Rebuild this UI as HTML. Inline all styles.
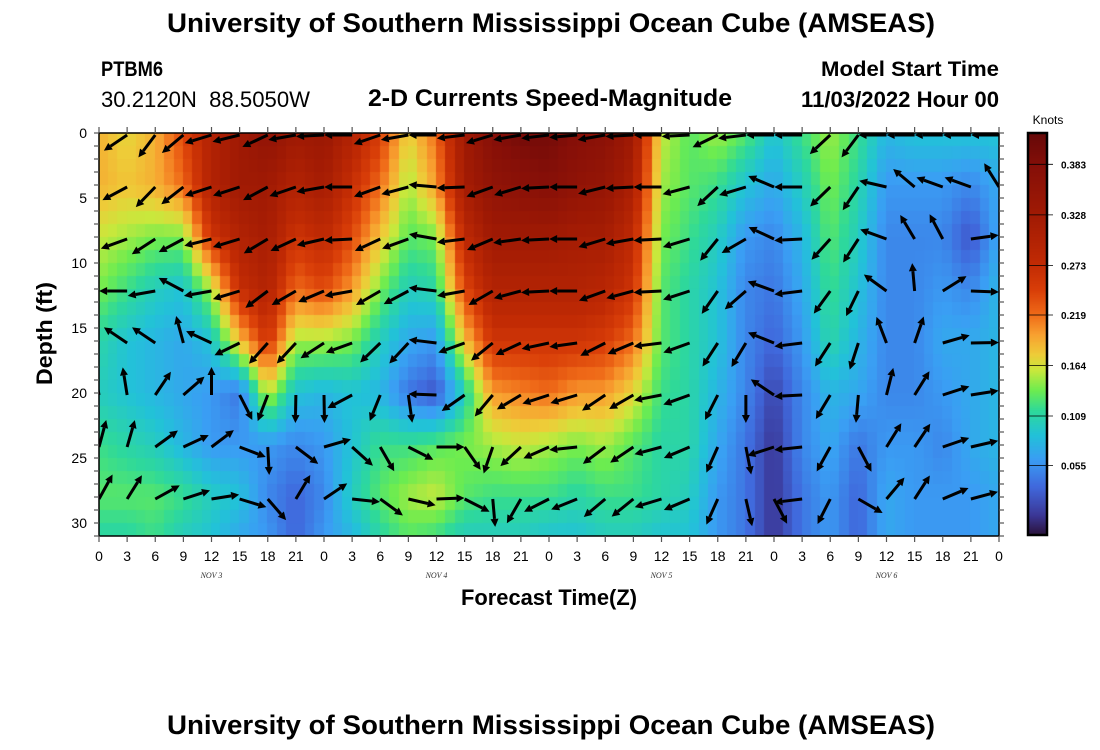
<!DOCTYPE html>
<html><head><meta charset="utf-8">
<style>
html,body{margin:0;padding:0;background:#fff;}
body{width:1100px;height:750px;position:relative;overflow:hidden;font-family:"Liberation Sans",sans-serif;}
svg{position:absolute;left:0;top:0;}
canvas{position:absolute;}
</style></head>
<body>
<canvas id="heat" width="900" height="403" style="left:99px;top:133px;width:900px;height:403px"></canvas>
<canvas id="cbar" width="19" height="402" style="left:1028px;top:133px;width:19px;height:402px"></canvas>
<svg id="svg" width="1100" height="750" xmlns="http://www.w3.org/2000/svg" font-family="Liberation Sans, sans-serif">
<text x="167" y="32" font-size="27" font-weight="bold" textLength="768" lengthAdjust="spacingAndGlyphs">University of Southern Mississippi Ocean Cube (AMSEAS)</text>
<text x="101" y="76" font-size="21" font-weight="bold" textLength="62" lengthAdjust="spacingAndGlyphs">PTBM6</text>
<text x="101" y="107" font-size="22" textLength="209" lengthAdjust="spacingAndGlyphs">30.2120N&#160;&#160;88.5050W</text>
<text x="368" y="106" font-size="24" font-weight="bold" textLength="364" lengthAdjust="spacingAndGlyphs">2-D Currents Speed-Magnitude</text>
<text x="821" y="76" font-size="21" font-weight="bold" textLength="178" lengthAdjust="spacingAndGlyphs">Model Start Time</text>
<text x="801" y="107" font-size="22" font-weight="bold" textLength="198" lengthAdjust="spacingAndGlyphs">11/03/2022 Hour 00</text>
<text transform="translate(52,385) rotate(-90)" font-size="22" font-weight="bold" textLength="103" lengthAdjust="spacingAndGlyphs">Depth (ft)</text>
<text x="461" y="605" font-size="22" font-weight="bold" textLength="176" lengthAdjust="spacingAndGlyphs">Forecast Time(Z)</text>
<text x="1048" y="124" text-anchor="middle" font-size="12">Knots</text>
<text x="167" y="734" font-size="27" font-weight="bold" textLength="768" lengthAdjust="spacingAndGlyphs">University of Southern Mississippi Ocean Cube (AMSEAS)</text>
<g id="arrows"></g>
<g id="axes"></g>
</svg>
<script>
// ---- data ----
const depths = [0,4,8,12,16,20,24,28,31];
const hours = [0,3,6,9,12,15,18,21,24,27,30,33,36,39,42,45,48,51,54,57,60,63,66,69,72,75,78,81,84,87,90,93,96];
// speed (knots), one array per time column, values at the depths above
const speedCols = [
[0.19,0.19,0.16,0.14,0.11,0.10,0.12,0.13,0.11],
[0.17,0.18,0.15,0.12,0.09,0.09,0.11,0.13,0.11],
[0.19,0.19,0.14,0.10,0.08,0.08,0.10,0.13,0.12],
[0.24,0.22,0.14,0.09,0.07,0.07,0.08,0.12,0.10],
[0.30,0.30,0.26,0.15,0.09,0.06,0.06,0.10,0.09],
[0.33,0.33,0.30,0.27,0.18,0.04,0.06,0.09,0.07],
[0.36,0.33,0.32,0.30,0.26,0.16,0.06,0.05,0.06],
[0.33,0.30,0.26,0.22,0.15,0.09,0.05,0.03,0.03],
[0.34,0.32,0.28,0.24,0.15,0.08,0.06,0.05,0.06],
[0.30,0.27,0.24,0.20,0.14,0.09,0.09,0.10,0.08],
[0.25,0.22,0.18,0.14,0.10,0.08,0.12,0.13,0.11],
[0.17,0.15,0.13,0.10,0.07,0.04,0.12,0.15,0.13],
[0.22,0.20,0.14,0.11,0.06,0.02,0.13,0.16,0.12],
[0.33,0.32,0.28,0.24,0.18,0.10,0.14,0.13,0.10],
[0.38,0.36,0.33,0.30,0.26,0.20,0.15,0.12,0.10],
[0.40,0.37,0.33,0.30,0.26,0.21,0.16,0.12,0.10],
[0.40,0.38,0.33,0.30,0.26,0.22,0.15,0.12,0.09],
[0.38,0.36,0.32,0.30,0.26,0.20,0.14,0.11,0.09],
[0.37,0.35,0.32,0.29,0.25,0.20,0.15,0.12,0.10],
[0.33,0.31,0.28,0.26,0.22,0.17,0.13,0.12,0.10],
[0.16,0.15,0.14,0.13,0.13,0.12,0.11,0.11,0.09],
[0.13,0.13,0.12,0.11,0.11,0.11,0.11,0.10,0.09],
[0.15,0.12,0.10,0.09,0.09,0.08,0.07,0.06,0.06],
[0.13,0.09,0.06,0.05,0.05,0.05,0.04,0.04,0.04],
[0.09,0.07,0.05,0.04,0.03,0.01,0.00,0.00,0.00],
[0.12,0.10,0.08,0.07,0.06,0.05,0.05,0.04,0.04],
[0.15,0.14,0.13,0.12,0.11,0.08,0.07,0.06,0.06],
[0.12,0.11,0.10,0.09,0.08,0.07,0.04,0.03,0.03],
[0.08,0.06,0.05,0.05,0.05,0.05,0.06,0.07,0.07],
[0.09,0.06,0.05,0.05,0.05,0.05,0.06,0.06,0.06],
[0.09,0.06,0.05,0.06,0.07,0.06,0.05,0.06,0.06],
[0.09,0.05,0.02,0.05,0.07,0.07,0.07,0.06,0.06],
[0.09,0.07,0.07,0.08,0.08,0.08,0.08,0.07,0.07]
];
// arrow directions (degrees, 0=east, 90=up) per arrow row depth
const arrowDepths = [0,4,8,12,16,20,24,28];
const dirRow0 = [200,214,233,220,197,194,205,190,183,180,199,190,180,187,197,190,187,185,190,183,180,183,206,187,180,180,223,233,180,180,180,180,180];
const dirRow1 = [200,208,226,218,198,198,208,199,190,180,200,195,175,182,200,197,183,180,194,183,180,195,223,197,157,180,224,236,167,140,160,160,122];
const dirRow2 = [195,200,213,208,194,197,211,205,193,183,205,200,170,187,203,188,183,180,197,190,183,197,231,210,155,183,228,237,160,121,118,8,0];
const dirRow3 = [180,180,190,152,190,197,217,210,203,190,210,208,173,190,210,195,183,180,200,195,183,198,235,221,160,187,234,244,144,95,32,358,0];
const dirRow4 = [146,146,146,105,155,206,228,227,213,200,224,227,173,200,219,205,192,188,207,203,187,200,237,239,158,187,237,252,111,71,16,1,0];
const dirRow5 = [100,99,56,41,90,297,249,269,271,208,248,278,178,215,230,211,198,197,214,210,191,200,243,270,146,183,239,265,76,58,18,9,0];
const dirRow6 = [75,74,36,25,37,339,273,323,16,318,300,333,0,305,251,223,204,186,217,214,195,203,246,281,198,186,241,298,58,56,19,13,0];
const dirRow7 = [61,58,29,18,9,343,311,59,34,354,324,347,2,333,275,240,207,202,220,219,197,203,246,283,298,187,243,330,50,57,23,15,0];
const dirRows = [dirRow0,dirRow1,dirRow2,dirRow3,dirRow4,dirRow5,dirRow6,dirRow7];
const xTickLabels = ["0","3","6","9","12","15","18","21","0","3","6","9","12","15","18","21","0","3","6","9","12","15","18","21","0","3","6","9","12","15","18","21","0"];
const dayLabels = ["NOV 3","NOV 4","NOV 5","NOV 6"];
const dayHours = [12,36,60,84];
const yTickValues = [0,5,10,15,20,25,30];
const cbTicks = [0.055,0.109,0.164,0.219,0.273,0.328,0.383];

// ---- scales ----
const X0=99, X1=999, Y0=133, Y1=536;
const xs = h => X0 + (h/96)*(X1-X0);
const ys = d => Y0 + d*13;
const VMIN=-0.0205, VMAX=0.4171;
const cbY = v => 535 - (v-VMIN)/(VMAX-VMIN)*402;
const stops=[[0,'#2a1238'],[0.05,'#3b3796'],[0.12,'#4068dc'],[0.19,'#3a9ef4'],[0.25,'#22c2d8'],[0.31,'#2ed99a'],[0.36,'#6cec50'],[0.41,'#c8e83c'],[0.45,'#eecc38'],[0.5,'#f8a030'],[0.55,'#ef6a18'],[0.61,'#d93e08'],[0.68,'#c02a04'],[0.8,'#a01a04'],[0.92,'#850f08'],[1,'#660808']];
function hex(c){return [parseInt(c.substr(1,2),16),parseInt(c.substr(3,2),16),parseInt(c.substr(5,2),16)];}
function cmap(v){
  let t=(v-VMIN)/(VMAX-VMIN); t=Math.max(0,Math.min(1,t));
  for(let i=1;i<stops.length;i++){ if(t<=stops[i][0]){ const a=hex(stops[i-1][1]),b=hex(stops[i][1]); const f=(t-stops[i-1][0])/(stops[i][0]-stops[i-1][0]); return 'rgb('+a.map((x,k)=>Math.round(x+(b[k]-x)*f)).join(',')+')'; } }
  return stops[stops.length-1][1];
}
function sample(h,d){
  let ci=Math.min(hours.length-2,Math.floor(h/3)); let fx=(h-hours[ci])/3;
  let ri=0; while(ri<depths.length-2 && d>depths[ri+1]) ri++;
  let fy=(d-depths[ri])/(depths[ri+1]-depths[ri]); fy=Math.max(0,Math.min(1,fy)); fx=Math.max(0,Math.min(1,fx));
  const a=speedCols[ci][ri],b=speedCols[ci+1][ri],c=speedCols[ci][ri+1],e=speedCols[ci+1][ri+1];
  return a*(1-fx)*(1-fy)+b*fx*(1-fy)+c*(1-fx)*fy+e*fx*fy;
}
// heatmap
const hc=document.getElementById('heat').getContext('2d');
for(let h=0;h<96;h++){ for(let d=0;d<31;d++){
  hc.fillStyle=cmap(sample(h+0.5,d+0.5));
  const x0=xs(h)-X0, x1=xs(h+1)-X0, y0=ys(d)-Y0, y1=ys(d+1)-Y0;
  hc.fillRect(Math.floor(x0),Math.floor(y0),Math.ceil(x1-x0)+1,Math.ceil(y1-y0)+1);
}}
// colorbar
const cc=document.getElementById('cbar').getContext('2d');
for(let y=0;y<402;y++){ const v=VMIN+(402-y)/402*(VMAX-VMIN); cc.fillStyle=cmap(v); cc.fillRect(0,y,19,1); }

const NS='http://www.w3.org/2000/svg';
function mk(tag,attrs,parent){const e=document.createElementNS(NS,tag);for(const k in attrs)e.setAttribute(k,attrs[k]);parent.appendChild(e);return e;}
// arrows
const ag=document.getElementById('arrows');
const clip=mk('clipPath',{id:'pc'},document.getElementById('svg'));
mk('rect',{x:X0,y:Y0,width:X1-X0,height:Y1-Y0},clip);
ag.setAttribute('clip-path','url(#pc)');
const L=28;
dirRows.forEach((row,r)=>{ row.forEach((deg,c)=>{
  const tx=xs(hours[c]), ty=ys(arrowDepths[r])+2;
  const a=deg*Math.PI/180, ux=Math.cos(a), uy=-Math.sin(a);
  const hx=tx+ux*L, hy=ty+uy*L;
  const g=mk('g',{},ag);
  
  
  const bx=hx-ux*8, by=hy-uy*8;
  mk('line',{x1:tx,y1:ty,x2:bx,y2:by,stroke:'#000','stroke-width':3},g);
  mk('polygon',{points:`${hx},${hy} ${bx-uy*4},${by+ux*4} ${bx+uy*4},${by-ux*4}`,fill:'#000'},g);
});});
// axes
const ax=document.getElementById('axes');
const frame=mk('rect',{x:X0,y:Y0,width:X1-X0,height:Y1-Y0,fill:'none',stroke:'#000','stroke-width':1.5},ax);


hours.forEach((h,i)=>{
  const x=xs(h);
  mk('line',{x1:x,y1:Y0-6,x2:x,y2:Y0,stroke:'#555','stroke-width':1.2},ax);
  mk('line',{x1:x,y1:Y1,x2:x,y2:Y1+6,stroke:'#555','stroke-width':1.2},ax);
  const t=mk('text',{x:x,y:561,'text-anchor':'middle','font-size':14},ax);
  
  
  t.textContent=xTickLabels[i];
});
dayLabels.forEach((s,i)=>{
  const t=mk('text',{x:xs(dayHours[i]),y:578,'text-anchor':'middle','font-size':8,'font-style':'italic','font-family':'Liberation Serif, serif',fill:'#333'},ax);
  
  
  t.textContent=s;
});
for(let d=0;d<=31;d++){
  const y=ys(d);
  mk('line',{x1:X0-5,y1:y,x2:X0,y2:y,stroke:'#555','stroke-width':1.2},ax);
  mk('line',{x1:X1,y1:y,x2:X1+5,y2:y,stroke:'#555','stroke-width':1.2},ax);
}
yTickValues.forEach(v=>{
  const t=mk('text',{x:87,y:ys(v)+5,'text-anchor':'end','font-size':14},ax);
  
  
  t.textContent=String(v);
});
const cbf=mk('rect',{x:1028,y:133,width:19,height:402,fill:'none',stroke:'#000','stroke-width':2.5},ax);


cbTicks.forEach(v=>{
  const y=cbY(v);
  mk('line',{x1:1028,y1:y,x2:1053,y2:y,stroke:'#000','stroke-width':0.8},ax);
  const t=mk('text',{x:1061,y:y+4,'font-size':10,'font-weight':'bold'},ax);
  
  
  t.textContent=v.toFixed(3);
});
</script>
</body></html>
